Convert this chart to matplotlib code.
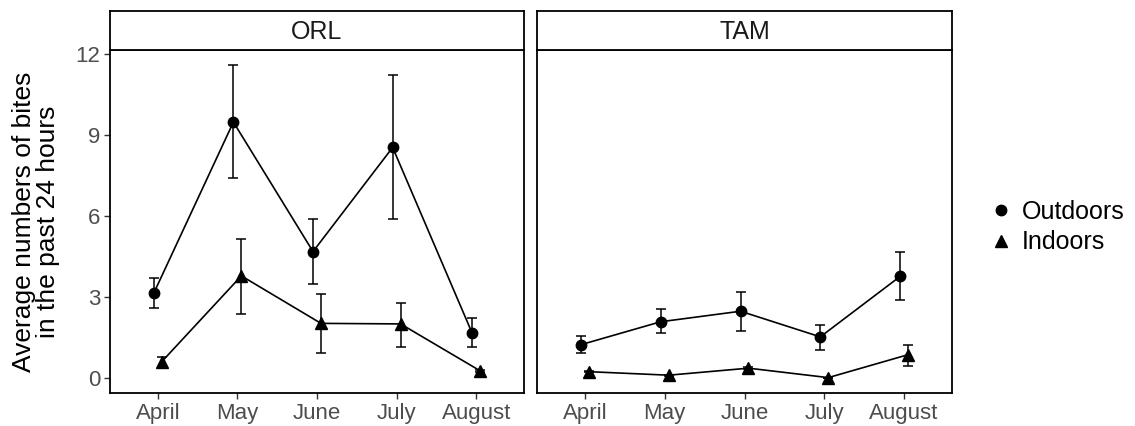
import numpy as np
import matplotlib
matplotlib.use("Agg")
import matplotlib.pyplot as plt

plt.rcParams['font.family'] = ['Liberation Sans', 'DejaVu Sans']

months = ["April", "May", "June", "July", "August"]
sites = ["ORL", "TAM"]

# mean bites and lower / upper error limits per site
orl_out = [3.13, 9.47, 4.67, 8.53, 1.64]
orl_out_lo = [2.57, 7.41, 3.46, 5.87, 1.12]
orl_out_hi = [3.70, 11.58, 5.87, 11.22, 2.22]
orl_in = [0.59, 3.77, 2.01, 1.99, 0.25]
orl_in_lo = [0.41, 2.35, 0.90, 1.15, 0.22]
orl_in_hi = [0.78, 5.14, 3.10, 2.78, 0.28]

tam_out = [1.22, 2.07, 2.46, 1.51, 3.75]
tam_out_lo = [0.93, 1.64, 1.73, 1.03, 2.87]
tam_out_hi = [1.53, 2.53, 3.17, 1.95, 4.66]
tam_in = [0.22, 0.09, 0.35, 0.0, 0.85]
tam_in_lo = [0.19, 0.07, 0.31, 0.0, 0.43]
tam_in_hi = [0.25, 0.11, 0.39, 0.0, 1.21]

data = {
    "ORL": [(orl_out, orl_out_lo, orl_out_hi), (orl_in, orl_in_lo, orl_in_hi)],
    "TAM": [(tam_out, tam_out_lo, tam_out_hi), (tam_in, tam_in_lo, tam_in_hi)],
}

W, H = 1135, 426
fig = plt.figure(figsize=(W / 100, H / 100), dpi=100)

def px_axes(x0, y0, x1, y1):
    return fig.add_axes([x0 / W, 1 - y1 / H, (x1 - x0) / W, (y1 - y0) / H])

panels = [(110, 524), (537, 952)]
x = np.arange(1, len(months) + 1)
dodge = 0.05
tick_grey = "#4D4D4D"

for i, (site, (xa, xb)) in enumerate(zip(sites, panels)):
    ax = px_axes(xa, 50, xb, 393)
    strip = px_axes(xa, 11, xb, 50)
    strip.set_xticks([])
    strip.set_yticks([])
    for s in strip.spines.values():
        s.set_linewidth(1.3)
    strip.text(0.5, 0.47, site, ha="center", va="center", fontsize=18,
               color="#1A1A1A", transform=strip.transAxes)

    for (mean, lo, hi), off, mk, lab in zip(data[site], [-dodge, dodge],
                                             ["o", "^"], ["Outdoors", "Indoors"]):
        mean = np.array(mean)
        yerr = [mean - np.array(lo), np.array(hi) - mean]
        ax.errorbar(x + off, mean, yerr=yerr, fmt="none", ecolor="black",
                    elinewidth=1.1, capsize=3.5, capthick=1.1, zorder=2)
        ax.plot(x + off, mean, color="black", lw=1.2, marker=mk,
                markersize=7.5 if mk == "o" else 8.5, zorder=3, label=lab)

    ax.set_xlim(0.4, 5.6)
    ax.set_ylim(-0.57, 12.14)
    ax.set_xticks(x)
    ax.set_xticklabels(months)
    ax.set_yticks([0, 3, 6, 9, 12])
    ax.tick_params(axis="both", direction="out", length=4, width=1,
                   color="#333333", labelsize=16, labelcolor=tick_grey, pad=3)
    for s in ax.spines.values():
        s.set_linewidth(1.3)
    if i == 0:
        ax.set_ylabel("Average numbers of bites\nin the past 24 hours",
                      fontsize=19, color="black", labelpad=11, linespacing=1.0)
    else:
        ax.tick_params(axis="y", left=False, labelleft=False)

leg_handles = [
    plt.Line2D([], [], color="black", marker="o", linestyle="none", markersize=7.5),
    plt.Line2D([], [], color="black", marker="^", linestyle="none", markersize=8.5),
]
fig.legend(leg_handles, ["Outdoors", "Indoors"], loc="center left",
           bbox_to_anchor=(986 / W, 1 - 227 / H), frameon=False, fontsize=18,
           handletextpad=0.25, labelspacing=0.26, handlelength=1.2,
           borderpad=0, borderaxespad=0)

fig.savefig("out.png", dpi=100)
